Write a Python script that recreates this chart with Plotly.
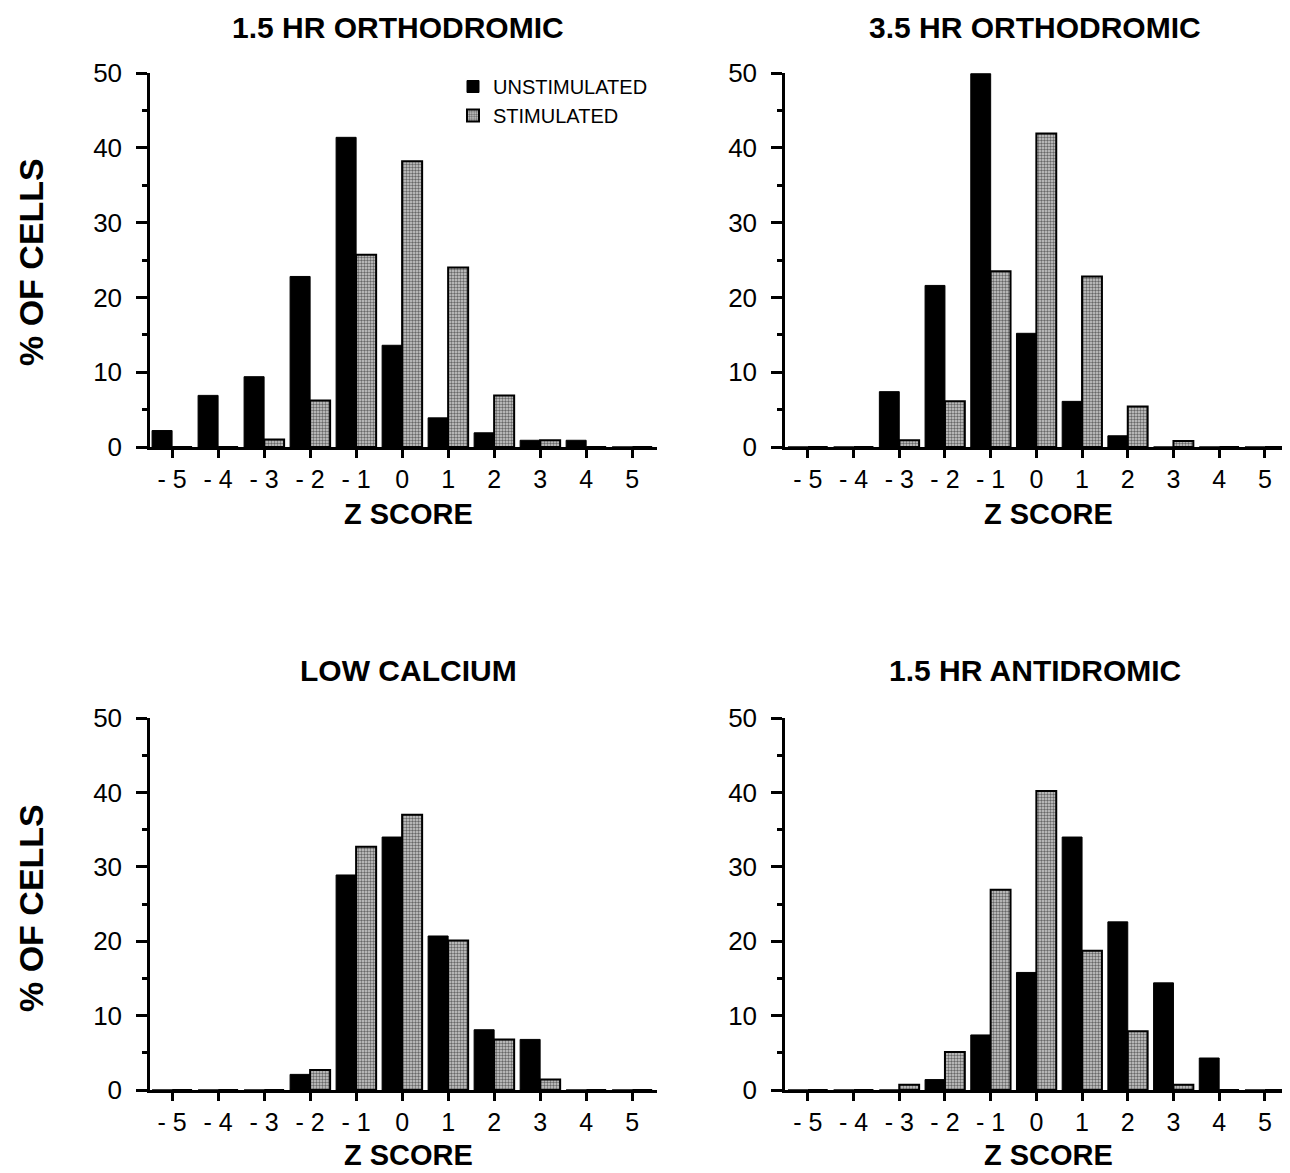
import plotly.graph_objects as go

# ---- data ----
z_scores = [-5, -4, -3, -2, -1, 0, 1, 2, 3, 4, 5]
z_labels = ["- 5", "- 4", "- 3", "- 2", "- 1", "0", "1", "2", "3", "4", "5"]
y_ticks = [0, 10, 20, 30, 40, 50]
y_minor = [5, 15, 25, 35, 45]

ortho15_unstim = [2.2, 6.9, 9.4, 22.8, 41.4, 13.6, 3.9, 1.9, 0.9, 0.9, 0]
ortho15_stim = [0, 0, 1.0, 6.2, 25.7, 38.2, 24.0, 6.9, 0.9, 0, 0]

ortho35_unstim = [0, 0, 7.4, 21.6, 49.9, 15.2, 6.1, 1.5, 0, 0, 0]
ortho35_stim = [0, 0, 0.9, 6.1, 23.5, 41.9, 22.8, 5.4, 0.8, 0, 0]

lowca_unstim = [0, 0, 0, 2.1, 28.9, 34.0, 20.7, 8.1, 6.8, 0, 0]
lowca_stim = [0, 0, 0, 2.7, 32.7, 37.0, 20.1, 6.8, 1.4, 0, 0]

anti_unstim = [0, 0, 0, 1.4, 7.4, 15.8, 34.0, 22.6, 14.4, 4.3, 0]
anti_stim = [0, 0, 0.7, 5.1, 26.9, 40.2, 18.7, 7.9, 0.7, 0, 0]

panel_titles = ["1.5 HR ORTHODROMIC", "3.5 HR ORTHODROMIC", "LOW CALCIUM", "1.5 HR ANTIDROMIC"]
series_names = ["UNSTIMULATED", "STIMULATED"]

panels = [
    (ortho15_unstim, ortho15_stim),
    (ortho35_unstim, ortho35_stim),
    (lowca_unstim, lowca_stim),
    (anti_unstim, anti_stim),
]

W, H = 1290, 1173
OFF = 8  # page body margin
FONT = "Liberation Sans, Arial, Helvetica, sans-serif"


def px_x(p):
    return (p - OFF) / W


def px_y(p):
    return 1 - (p - OFF) / H


x_domains = [
    [px_x(150), px_x(657)],
    [px_x(785), px_x(1290)],
    [px_x(150), px_x(657)],
    [px_x(785), px_x(1290)],
]
x_ranges = [[-5.48, 5.54], [-5.5, 5.55], [-5.48, 5.54], [-5.5, 5.55]]
y_domains = [
    [px_y(447), px_y(73)],
    [px_y(447), px_y(73)],
    [px_y(1090), px_y(718)],
    [px_y(1090), px_y(718)],
]

fig = go.Figure()

for i, (unstim, stim) in enumerate(panels):
    ax = "" if i == 0 else str(i + 1)
    fig.add_trace(go.Bar(
        x=z_scores, y=unstim, name=series_names[0],
        xaxis="x" + ax, yaxis="y" + ax, offsetgroup="u",
        marker=dict(color="black", line=dict(color="black", width=1)),
        showlegend=(i == 0), legendgroup="u",
    ))
    fig.add_trace(go.Bar(
        x=z_scores, y=stim, name=series_names[1],
        xaxis="x" + ax, yaxis="y" + ax, offsetgroup="s",
        marker=dict(
            color="white",
            line=dict(color="black", width=2),
            pattern=dict(shape=".", fgcolor="#000000", bgcolor="#cfcfcf", size=3, solidity=0.5),
        ),
        showlegend=(i == 0), legendgroup="s",
    ))

layout = dict(
    width=W, height=H,
    margin=dict(l=0, r=0, t=0, b=0, autoexpand=False),
    paper_bgcolor="white", plot_bgcolor="white",
    barmode="group", bargap=0.13, bargroupgap=0,
    font=dict(family=FONT, color="black"),
    legend=dict(
        x=px_x(453), y=px_y(67), xanchor="left", yanchor="top",
        font=dict(size=20, family=FONT, color="black"),
        bgcolor="rgba(0,0,0,0)", tracegroupgap=0, itemwidth=30,
    ),
)

for i in range(4):
    ax = "" if i == 0 else str(i + 1)
    layout["xaxis" + ax] = dict(
        domain=x_domains[i], range=x_ranges[i], anchor="y" + ax,
        tickmode="array", tickvals=z_scores, ticktext=z_labels,
        ticks="outside", ticklen=8, tickwidth=2.5, tickcolor="black",
        ticklabelstandoff=0,
        showline=True, linecolor="black", linewidth=2.5,
        showgrid=False, zeroline=False, automargin=False,
        tickfont=dict(size=25, family=FONT, color="black"),
        fixedrange=True,
    )
    layout["yaxis" + ax] = dict(
        domain=y_domains[i], range=[0, 50], anchor="x" + ax,
        tickmode="array", tickvals=y_ticks,
        ticks="outside", ticklen=11, tickwidth=2.5, tickcolor="black",
        ticklabelstandoff=9,
        minor=dict(tickvals=y_minor, ticks="outside", ticklen=5, tickwidth=2.5, tickcolor="black"),
        showline=True, linecolor="black", linewidth=2.5,
        showgrid=False, zeroline=False, automargin=False,
        tickfont=dict(size=26, family=FONT, color="black"),
        fixedrange=True,
    )

fig.update_layout(**layout)

annotations = []
title_pos = [(398, 27), (1035, 27), (408, 670), (1035, 670)]
for t, (x, y) in zip(panel_titles, title_pos):
    annotations.append(dict(
        text="<b>" + t + "</b>", x=px_x(x), y=px_y(y), xref="paper", yref="paper",
        xanchor="center", yanchor="middle", showarrow=False,
        font=dict(size=30, family=FONT, color="black"),
    ))

for (x, y) in [(408, 514), (1048, 514), (408, 1155), (1048, 1155)]:
    annotations.append(dict(
        text="<b>Z SCORE</b>", x=px_x(x), y=px_y(y), xref="paper", yref="paper",
        xanchor="center", yanchor="middle", showarrow=False,
        font=dict(size=29, family=FONT, color="black"),
    ))

for y in [262, 908]:
    annotations.append(dict(
        text="<b>% OF CELLS</b>", x=px_x(31), y=px_y(y), xref="paper", yref="paper",
        xanchor="center", yanchor="middle", showarrow=False, textangle=-90,
        font=dict(size=34, family=FONT, color="black"),
    ))

fig.update_layout(annotations=annotations)

fig.write_html("out.html")
